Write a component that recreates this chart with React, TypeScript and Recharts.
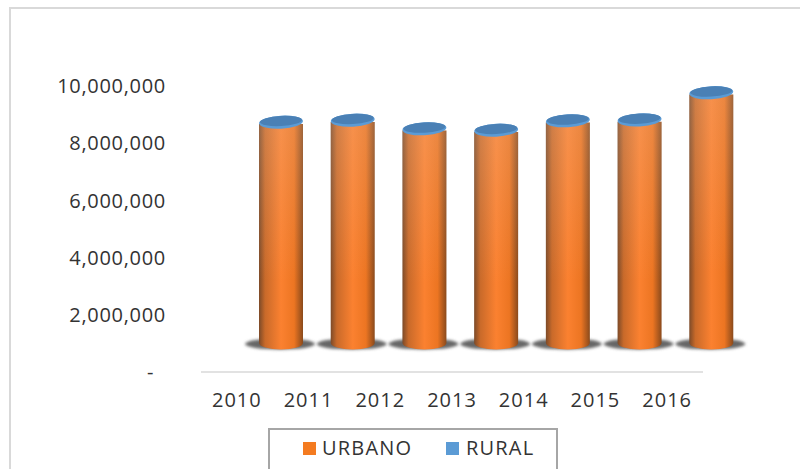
import React from 'react';
import { BarChart, Bar, XAxis, YAxis, Legend } from 'recharts';

const years = ['2010', '2011', '2012', '2013', '2014', '2015', '2016'];
const urbano = [8670000, 8740000, 8440000, 8390000, 8720000, 8750000, 9700000];
const rural = [130000, 130000, 130000, 130000, 130000, 130000, 130000];
const yTicks = [0, 2000000, 4000000, 6000000, 8000000, 10000000];

const data = years.map((year, i) => ({ year, urbano: urbano[i], rural: rural[i] }));

const FONT = '"Open Sans", sans-serif';
const TEXT = '#333333';

// the original is a 3D chart: columns sit back from the axis, up and to the right
const DEPTH_X = 44;
const FLOOR_LIFT = 29;
const CAP_RY = 6.5;

const formatTick = (v: number) => (v === 0 ? '-\u00a0\u00a0' : v.toLocaleString('en-US'));

const Cylinder = (props: any) => {
  const { x, y, width, height } = props;
  const left = x + DEPTH_X;
  const cx = left + width / 2;
  const bottom = y + height - FLOOR_LIFT;
  const body = `M${left},${y} L${left + width},${y} L${left + width},${bottom} A${width / 2},${CAP_RY} 0 0 1 ${left},${bottom} Z`;
  return (
    <g>
      <ellipse cx={cx - 1} cy={bottom + 1} rx={35} ry={5.5} fill="#666666" filter="url(#shadowBlur)" />
      <path d={body} fill="url(#cylinder)" />
      <path d={body} fill="url(#cylinderFade)" />
    </g>
  );
};

const Cap = (props: any) => {
  const { x, y, width, height } = props;
  const cx = x + DEPTH_X + width / 2;
  const cy = y + height / 2;
  return (
    <g transform={`rotate(-3 ${cx} ${cy})`}>
      <ellipse cx={cx} cy={cy} rx={width / 2} ry={CAP_RY} fill="#5b9bd5" />
      <ellipse cx={cx} cy={cy - 1.2} rx={width / 2 - 1} ry={CAP_RY - 1.4} fill="#4a80b5" />
    </g>
  );
};

const LegendBox = () => (
  <div
    style={{
      width: 286,
      height: 41,
      border: '2px solid #a6a6a6',
      borderBottom: 'none',
      background: '#fff',
      fontFamily: FONT,
      fontSize: 20,
      letterSpacing: 1.2,
      color: TEXT,
      position: 'relative',
    }}
  >
    <span style={{ position: 'absolute', left: 33, top: 12, width: 13, height: 13, background: '#f47b20' }} />
    <span style={{ position: 'absolute', left: 52, top: 4 }}>URBANO</span>
    <span style={{ position: 'absolute', left: 176, top: 12, width: 13, height: 13, background: '#5b9bd5' }} />
    <span style={{ position: 'absolute', left: 196, top: 4 }}>RURAL</span>
  </div>
);

export default function App() {
  return (
    <div style={{ position: 'absolute', left: 0, top: 0, width: 800, height: 469, overflow: 'hidden', background: '#fff' }}>
      <div style={{ position: 'absolute', left: 9, top: 7, width: 800, height: 480, border: '2px solid #d9d9d9' }} />
      <div
        style={{
          position: 'absolute',
          left: 340,
          top: -22,
          width: 185,
          textAlign: 'center',
          fontFamily: FONT,
          fontSize: 20,
          letterSpacing: 1,
          color: '#8c8c8c',
        }}
      >
        Título del área
      </div>
      <BarChart
        width={800}
        height={469}
        data={data}
        barSize={44}
        margin={{ top: 86, right: 97, bottom: 24, left: 0 }}
        style={{ position: 'absolute', left: 0, top: 0, overflow: 'visible' }}
      >
        <defs>
          <linearGradient id="cylinder" x1="0" y1="0" x2="1" y2="0">
            <stop offset="0" stopColor="#7c4a28" />
            <stop offset="0.14" stopColor="#c96a2a" />
            <stop offset="0.5" stopColor="#fb8130" />
            <stop offset="0.8" stopColor="#ec7522" />
            <stop offset="1" stopColor="#8a4a1c" />
          </linearGradient>
          <linearGradient id="cylinderFade" x1="0" y1="0" x2="0" y2="1">
            <stop offset="0" stopColor="#e8c8b0" stopOpacity={0.22} />
            <stop offset="0.7" stopColor="#e8c8b0" stopOpacity={0} />
          </linearGradient>
          <filter id="shadowBlur" x="-20%" y="-60%" width="140%" height="220%">
            <feGaussianBlur stdDeviation="1.6" />
          </filter>
        </defs>
        <XAxis
          dataKey="year"
          axisLine={{ stroke: '#d9d9d9', strokeWidth: 1.5 }}
          tickLine={false}
          tickMargin={15}
          tick={{ fontFamily: FONT, fontSize: 20, letterSpacing: 1, fill: TEXT }}
          interval={0}
        />
        <YAxis
          type="number"
          domain={[0, 10000000]}
          ticks={yTicks}
          tickFormatter={formatTick}
          axisLine={false}
          tickLine={false}
          width={201}
          tickMargin={29}
          tick={{ fontFamily: FONT, fontSize: 20, letterSpacing: 0.7, fill: TEXT }}
        />
        <Bar dataKey="urbano" name="URBANO" stackId="a" fill="#f47b20" shape={<Cylinder />} isAnimationActive={false} />
        <Bar dataKey="rural" name="RURAL" stackId="a" fill="#5b9bd5" shape={<Cap />} isAnimationActive={false} />
        <Legend
          content={<LegendBox />}
          wrapperStyle={{ position: 'absolute', left: 268, top: 428, width: 290, bottom: 'auto' }}
        />
      </BarChart>
    </div>
  );
}
